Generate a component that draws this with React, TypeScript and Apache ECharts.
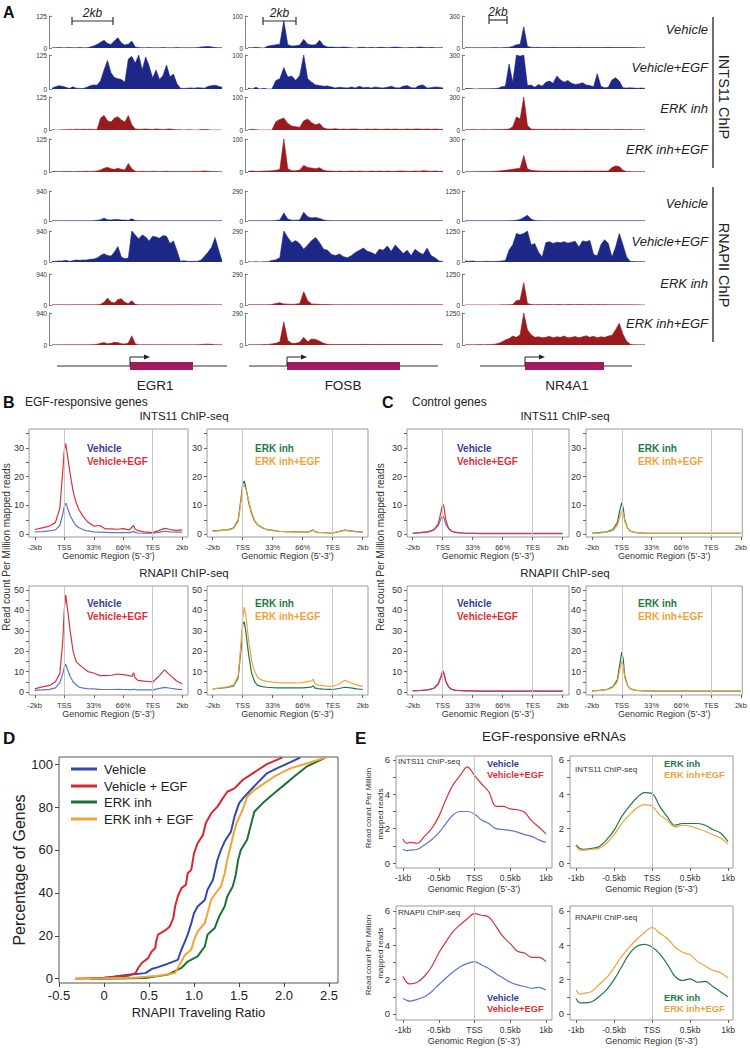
import React, { useEffect, useRef } from "react";
import * as echarts from "echarts";

const FONT = '"Liberation Sans", Arial, Helvetica, sans-serif';

// ---------------- Panel A: browser tracks (50 bins each) ----------------
const TRACK_BINS = 50;
const GENES = ["EGR1", "FOSB", "NR4A1"];
const INTS11_MAX = [125, 100, 300];
const RNAPII_MAX = [940, 290, 1250];
const CONDITIONS = ["Vehicle", "Vehicle+EGF", "ERK inh", "ERK inh+EGF"];

const A_EGR1_I_VEH = [1,1,2,1,1,2,1,1,2,1, 1,4,8,14,22,30,18,14,28,40, 20,12,15,27,4,2,1,1,2,1, 1,1,2,1,1,1,2,1,1,1, 1,1,2,4,5,6,4,2,1,1];
const A_EGR1_I_EGF = [3,8,12,10,6,2,8,3,2,2, 6,12,15,14,30,70,105,60,42,38, 35,25,110,120,95,125,70,118,85,40, 70,35,50,88,45,55,20,3,2,3, 4,3,5,4,3,10,12,14,10,6];
const A_EGR1_I_ERK = [1,0,0,1,1,2,1,3,2,3, 2,3,2,2,45,55,35,30,45,50, 38,30,55,20,4,3,3,4,3,2, 4,3,2,3,4,2,1,1,0,1, 1,0,0,2,2,1,0,0,0,0];
const A_EGR1_I_ERKEGF = [2,2,1,2,2,2,1,2,2,2, 3,2,3,4,8,14,18,12,10,14, 10,8,32,12,3,2,3,2,2,3, 2,2,2,3,2,2,2,2,2,2, 2,3,2,3,4,3,2,2,1,1];
const A_EGR1_P_VEH = [5,5,5,5,5,5,5,5,8,5, 5,5,10,20,40,90,40,30,50,45, 30,30,20,70,15,10,8,8,8,8, 8,8,8,8,8,8,5,5,5,5, 5,5,5,8,8,5,5,5,5,5];
const A_EGR1_P_EGF = [20,20,30,30,50,20,40,60,50,60, 60,80,90,120,200,250,200,180,300,470, 150,100,120,940,820,700,820,760,640,780, 760,720,800,780,560,640,350,20,40,20, 20,20,20,60,180,300,450,740,380,30];
const A_EGR1_P_ERK = [5,5,5,5,5,5,5,5,10,5, 10,5,10,10,20,80,210,90,60,170, 190,80,40,130,20,10,5,10,5,5, 10,5,5,5,5,5,5,5,10,5, 5,5,5,10,5,5,5,5,5,5];
const A_EGR1_P_ERKEGF = [5,5,5,5,8,5,5,8,5,5, 8,10,15,25,50,70,40,50,80,70, 40,30,60,270,40,10,10,10,8,8, 8,8,8,10,8,8,8,8,8,8, 8,8,10,15,25,25,20,10,5,5];

const A_FOSB_I_VEH = [1,1,2,1,0,6,8,10,12,85, 10,6,7,9,27,12,9,10,24,8, 3,3,2,2,3,2,1,0,2,2, 1,2,1,2,2,1,2,3,2,1, 1,2,1,3,2,1,2,1,1,1];
const A_FOSB_I_EGF = [3,0,5,0,2,0,0,25,30,63, 35,38,25,40,100,30,20,12,10,8, 9,6,3,5,4,3,6,3,8,4, 5,3,6,4,3,5,8,4,3,8, 10,4,3,10,12,3,4,6,5,3];
const A_FOSB_I_ERK = [0,2,1,0,0,0,0,25,32,36, 20,12,10,8,28,33,22,16,20,6, 3,3,4,2,3,2,3,3,2,2, 3,2,3,2,2,3,2,3,2,2, 3,2,3,3,2,3,2,3,2,2];
const A_FOSB_I_ERKEGF = [2,3,2,2,3,3,4,5,8,100, 10,4,4,6,20,14,12,10,13,5, 3,3,2,3,2,2,3,2,3,2, 2,3,2,3,2,3,2,2,3,3, 2,2,3,2,4,3,2,3,2,2];
const A_FOSB_P_VEH = [2,2,2,2,2,2,3,5,10,78, 20,8,8,10,85,40,30,35,25,10, 4,3,3,3,3,3,3,3,3,3, 3,3,3,3,3,3,3,3,3,3, 3,3,3,3,3,3,3,3,3,3];
const A_FOSB_P_EGF = [3,0,3,0,2,3,15,20,40,290, 230,180,200,170,120,160,200,230,180,120, 110,70,60,75,50,40,60,90,110,130, 100,90,70,120,110,150,100,160,120,80, 110,60,120,90,70,130,60,40,10,5];
const A_FOSB_P_ERK = [2,2,3,2,2,3,5,15,20,10, 8,6,8,15,125,40,10,8,6,5, 4,3,3,3,2,3,3,2,3,3, 2,2,3,3,2,3,2,3,3,2, 3,3,2,3,2,3,2,3,2,2];
const A_FOSB_P_ERKEGF = [3,2,3,2,4,5,10,15,30,210, 40,15,15,25,70,30,55,50,35,15, 6,5,5,4,5,4,5,4,5,6, 4,5,4,5,5,4,5,4,5,4, 5,4,5,5,4,5,4,5,4,3];

const A_NR4A1_I_VEH = [3,3,2,3,3,2,3,3,4,3, 3,4,6,15,30,35,200,15,6,5, 6,5,4,5,6,5,4,5,4,5, 4,6,5,4,5,4,5,4,5,6, 4,5,4,5,4,5,4,3,3,3];
const A_NR4A1_I_EGF = [5,4,3,0,2,3,2,3,4,6, 20,25,220,60,300,290,300,30,35,15, 40,25,60,70,50,115,80,60,75,50, 40,45,55,35,30,20,135,25,10,15, 80,100,70,10,8,10,8,6,8,5];
const A_NR4A1_I_ERK = [3,3,4,3,3,4,3,3,4,5, 4,6,8,30,120,100,300,40,8,6, 5,6,5,6,5,6,5,6,5,6, 5,4,5,6,5,4,5,4,5,4, 3,4,5,4,3,4,3,3,2,2];
const A_NR4A1_I_ERKEGF = [3,2,3,3,4,4,5,5,6,8, 12,15,20,25,30,35,150,30,15,12, 10,8,10,8,9,8,10,8,9,8, 8,9,8,10,8,9,8,9,8,10, 40,55,50,15,5,4,3,3,3,3];
const A_NR4A1_P_VEH = [8,8,8,8,8,8,8,8,8,8, 10,10,12,20,30,60,150,240,80,20, 15,12,12,12,10,12,12,10,12,10, 10,12,10,12,10,10,12,10,10,10, 10,12,10,12,10,10,8,8,8,8];
const A_NR4A1_P_EGF = [40,30,40,20,20,25,30,20,25,30, 40,60,480,700,1150,1100,1150,1250,700,740, 400,200,780,820,750,800,780,820,760,800, 840,600,850,820,870,300,250,700,900,750, 200,600,1150,700,200,20,20,15,10,8];
const A_NR4A1_P_ERK = [5,5,5,5,5,5,5,5,5,5, 8,10,15,20,180,200,900,60,20,15, 18,15,20,18,15,20,18,15,20,18, 15,18,20,15,18,15,20,15,18,15, 12,15,12,10,12,10,8,8,5,5];
const A_NR4A1_P_ERKEGF = [10,10,10,12,15,12,15,20,30,60, 120,200,250,350,300,400,1250,600,400,300, 320,280,300,340,280,320,300,350,280,300, 330,280,320,360,300,340,280,320,300,350, 380,600,850,420,150,30,10,8,5,5];

const TRACKS = [
  [A_EGR1_I_VEH, A_EGR1_I_EGF, A_EGR1_I_ERK, A_EGR1_I_ERKEGF, A_EGR1_P_VEH, A_EGR1_P_EGF, A_EGR1_P_ERK, A_EGR1_P_ERKEGF],
  [A_FOSB_I_VEH, A_FOSB_I_EGF, A_FOSB_I_ERK, A_FOSB_I_ERKEGF, A_FOSB_P_VEH, A_FOSB_P_EGF, A_FOSB_P_ERK, A_FOSB_P_ERKEGF],
  [A_NR4A1_I_VEH, A_NR4A1_I_EGF, A_NR4A1_I_ERK, A_NR4A1_I_ERKEGF, A_NR4A1_P_VEH, A_NR4A1_P_EGF, A_NR4A1_P_ERK, A_NR4A1_P_ERKEGF],
];

// ---------------- Panels B & C: metagene profiles ----------------
const PROFILE_X = [0,5,10,14,17,19,20,21,22,24,26,28,30,33,36,40,44,48,52,56,60,64,66,67,68,70,74,78,80,84,88,92,96,100];
const PROFILE_TICKS = [0, 20, 40, 60, 80, 100];
const PROFILE_TICK_LABELS = ["-2kb", "TSS", "33%", "66%", "TES", "2kb"];

const B_INTS11_VEH = [0.8,0.9,1.1,1.5,3,7,9.5,10.8,9.5,6.5,4.5,3,2.2,1.5,1.1,0.8,0.7,0.6,0.5,0.5,0.5,0.5,0.8,1,0.6,0.4,0.3,0.3,0.3,0.6,1,0.8,0.7,0.7];
const B_INTS11_EGF = [1.6,2.2,2.8,4,9,22,29,31.5,28,21,15,11,8.5,6,4.2,2.8,3,1.8,1.8,1.7,1.9,1.5,2.5,3,1.8,1.2,0.8,0.6,0.5,1.2,2,1.6,1.3,1.5];
const B_INTS11_ERK = [1.1,1.3,1.5,2.2,5,13,17.5,18.5,16.5,11,7,4.5,3.2,2.2,1.6,1.3,1,0.9,0.9,0.8,0.8,0.8,1.2,1.5,0.9,0.6,0.5,0.4,0.4,0.9,1.4,1.1,0.9,0.8];
const B_INTS11_ERKEGF = [1,1.2,1.4,2,4.5,12,16.5,17,16,11.5,7.5,4.8,3.3,2.3,1.6,1.2,1,0.9,0.8,0.8,0.8,0.8,1.1,1.4,0.9,0.6,0.5,0.4,0.4,0.9,1.3,1,0.8,0.7];
const B_POL2_VEH = [0.8,1,1.3,2,4.5,9,12,13.6,11.5,7.6,5,3.5,2.4,1.9,1.6,1.5,1.3,1.2,1.2,1.3,1.2,1.1,1.1,1.3,1.1,1,1,1,1,1.6,2.2,1.8,1.4,1.1];
const B_POL2_EGF = [1.5,2.5,3.2,5,9,25,40,47.5,42,30,20,15,13.5,11.7,10,9.3,8,8,8.2,8.8,8.5,8,7.6,9.5,7,5.7,5.3,5,4.9,7.6,10.8,8,5.5,3.9];
const B_POL2_ERK = [1.5,1.8,2.2,3,7,22,33,34.5,30,18,9,5,3.2,2.6,2.3,2.1,2,2,2,2,2,2.2,2.5,3,2,1.6,1.4,1.3,1.2,1.7,2.3,2,1.5,1.2];
const B_POL2_ERKEGF = [1.5,2,2.5,3.5,8,25,36,41.5,38,25,15,10,7,5.7,5.2,4.8,4.6,4.5,4.5,4.4,4.6,5.2,5.5,6.3,4,3.5,3,2.8,2.7,3.8,5.7,4.5,3.5,2.7];

const C_INTS11_VEH = [0.3,0.5,0.8,1.4,3,5.5,6.5,5.5,3.5,1.8,1,0.7,0.5,0.4,0.3,0.3,0.2,0.2,0.2,0.2,0.2,0.2,0.2,0.2,0.2,0.2,0.2,0.2,0.2,0.2,0.2,0.2,0.2,0.2];
const C_INTS11_EGF = [0.3,0.5,0.8,1.5,3.5,8,10.5,9,5,2,1,0.7,0.5,0.4,0.3,0.3,0.3,0.3,0.3,0.3,0.3,0.3,0.3,0.3,0.3,0.3,0.3,0.3,0.3,0.3,0.3,0.3,0.3,0.3];
const C_INTS11_ERK = [0.3,0.5,0.8,1.6,4,9,11,9,5,2,1,0.7,0.5,0.4,0.3,0.3,0.3,0.3,0.3,0.3,0.3,0.3,0.3,0.3,0.3,0.3,0.3,0.3,0.3,0.3,0.3,0.3,0.3,0.3];
const C_INTS11_ERKEGF = [0.3,0.4,0.7,1.2,3,6.5,8,7.5,4.5,2,1,0.7,0.5,0.4,0.3,0.3,0.3,0.3,0.3,0.3,0.3,0.3,0.3,0.3,0.3,0.3,0.3,0.3,0.3,0.3,0.3,0.3,0.3,0.3];
const C_POL2_VEH = [0.5,0.7,1,1.7,3.8,7.5,9.5,8.5,5,2.3,1.2,0.9,0.7,0.6,0.5,0.5,0.4,0.4,0.4,0.4,0.4,0.4,0.4,0.4,0.4,0.4,0.4,0.4,0.4,0.4,0.4,0.4,0.4,0.4];
const C_POL2_EGF = [0.5,0.7,1,1.8,4,8,10.5,9,5.5,2.5,1.3,0.9,0.7,0.6,0.5,0.5,0.4,0.4,0.4,0.4,0.4,0.4,0.4,0.4,0.4,0.4,0.4,0.4,0.4,0.4,0.4,0.4,0.4,0.4];
const C_POL2_ERK = [0.5,0.8,1.2,2.5,6,15,19.5,16,8,3,1.5,1,0.8,0.6,0.5,0.5,0.4,0.4,0.4,0.4,0.4,0.4,0.4,0.4,0.4,0.4,0.4,0.4,0.4,0.4,0.4,0.4,0.4,0.4];
const C_POL2_ERKEGF = [0.5,0.7,1.1,2.2,5,12,15,13,7,3,1.5,1,0.8,0.6,0.5,0.5,0.4,0.4,0.4,0.4,0.4,0.4,0.4,0.4,0.4,0.4,0.4,0.4,0.4,0.4,0.4,0.4,0.4,0.4];

// ---------------- Panel D: cumulative distribution ----------------
const D_VEH_X = [-0.05,0,0.27,0.46,0.53,0.6,0.71,0.82,0.86,0.9,0.93,0.97,1.0,1.04,1.12,1.15,1.21,1.26,1.3,1.34,1.41,1.45,1.5,1.56,1.63,1.7,1.81,1.92,2.0,2.18];
const D_VEH_Y = [0,0.3,1.9,2.6,4.5,5.4,7,8.8,13.5,17.4,20.5,25.9,30.5,33.6,36.7,41.4,46,55.3,60,63.9,68.5,75.5,81.7,84.8,87.9,91,95.7,98,99.5,103];
const D_EGF_X = [-0.32,0,0.27,0.35,0.38,0.42,0.49,0.53,0.57,0.58,0.6,0.68,0.73,0.77,0.79,0.82,0.86,0.91,0.93,0.97,1.0,1.04,1.1,1.13,1.19,1.26,1.32,1.37,1.45,1.54,1.61,1.7,1.81,1.98];
const D_EGF_Y = [0,0.5,1.4,2.6,5,7.3,9.6,12.7,14.3,17.4,20.5,22.5,24.3,28.2,33.6,38.3,42.2,43.7,49.1,50.7,58.4,63.1,67,72.4,77,80.2,84,87.1,88.7,92.6,94.5,97,100,103];
const D_ERK_X = [-0.15,0.16,0.46,0.71,0.86,0.93,1.04,1.12,1.15,1.23,1.28,1.34,1.37,1.43,1.46,1.49,1.52,1.59,1.67,1.78,1.89,2.0,2.11,2.25,2.46];
const D_ERK_Y = [0,0.1,0.3,1.9,5,8,10.4,15,20.5,23.6,29,33.6,38.3,43,47.6,55.3,60,64.7,77.8,82.5,86.4,90.2,94.1,98.8,103];
const D_ERKEGF_X = [-0.32,0,0.35,0.6,0.79,0.86,0.9,0.97,1.0,1.04,1.12,1.15,1.19,1.24,1.3,1.34,1.37,1.41,1.45,1.48,1.54,1.59,1.67,1.78,1.92,2.07,2.25,2.46];
const D_ERKEGF_Y = [0,0.2,0.5,1.4,2.6,8,11.2,13.5,18,22,25.9,30.5,36.7,39.8,43,49,55.3,62.3,69.3,73.2,78.6,84.8,87.9,91,94.9,98,100.3,103];
const D_XTICKS = [-0.5, 0, 0.5, 1, 1.5, 2, 2.5];
const D_XLABELS = ["-0.5", "0", "0.5", "1.0", "1.5", "2.0", "2.5"];
const D_YTICKS = [0, 20, 40, 60, 80, 100];
const D_LEGEND = ["Vehicle", "Vehicle + EGF", "ERK inh", "ERK inh + EGF"];

// ---------------- Panel E: eRNA profiles ----------------
const E_X = [-1,-0.95,-0.9,-0.8,-0.7,-0.6,-0.5,-0.4,-0.3,-0.2,-0.1,0,0.1,0.2,0.3,0.4,0.5,0.6,0.7,0.8,0.9,1];
const E_INTS11_VEH = [0.8,0.72,0.75,0.8,1.05,1.35,1.75,2.3,2.8,3.0,3.0,2.85,2.5,2.3,2.0,1.95,1.9,1.8,1.65,1.55,1.35,1.2];
const E_INTS11_EGF = [1.4,1.15,1.2,1.15,1.55,2.0,2.7,3.7,4.55,5.1,5.6,5.1,4.6,4.15,3.3,3.3,3.15,3.1,2.95,2.45,2.1,1.7];
const E_INTS11_ERK = [1.05,0.85,0.8,0.85,0.95,1.35,1.9,2.7,3.3,3.8,4.1,4.05,3.3,2.7,2.2,2.3,2.3,2.3,2.2,1.95,1.75,1.25];
const E_INTS11_ERKEGF = [1.0,0.75,0.75,0.8,0.85,1.15,1.65,2.3,2.8,3.2,3.4,3.3,2.8,2.5,2.1,2.2,2.15,2.0,1.85,1.65,1.45,1.1];
const E_POL2_VEH = [0.9,0.8,0.75,0.85,1.0,1.3,1.7,2.1,2.45,2.75,2.95,3.05,2.85,2.65,2.35,2.1,1.85,1.7,1.6,1.5,1.55,1.4];
const E_POL2_EGF = [2.2,1.85,1.75,1.85,2.2,2.75,3.55,4.2,4.8,5.2,5.55,5.85,5.75,5.65,5.1,4.5,4.1,3.65,3.55,3.3,3.3,3.05];
const E_POL2_ERK = [0.9,0.65,0.65,0.7,1.0,1.4,2.0,2.75,3.5,3.95,4.05,3.9,3.5,2.9,2.2,1.95,2.05,1.85,1.9,1.6,1.3,1.0];
const E_POL2_ERKEGF = [1.4,1.15,1.2,1.3,1.7,2.1,2.7,3.35,3.9,4.35,4.75,5.05,4.7,4.4,3.9,3.6,3.45,3.05,2.8,2.55,2.4,2.1];
const E_XTICKS = [-1, -0.5, 0, 0.5, 1];
const E_XLABELS = ["-1kb", "-0.5kb", "TSS", "0.5kb", "1kb"];

// ---------------- colours ----------------
const TRACK_BLUE = "#1c2788";
const TRACK_RED = "#9a1b1e";
const COL_VEH_LINE = "#5a77c9";
const COL_VEH_TEXT = "#343b9b";
const COL_EGF = "#dc3139";
const COL_ERK = "#1d7a44";
const COL_ERKEGF = "#efa23a";
const D_COLORS = ["#3549ad", "#d7282f", "#1b7434", "#f2a331"];

const fmt = (vals: number[], labels: string[]) => (v: number) => {
  const i = vals.findIndex((t) => Math.abs(t - v) < 1e-6);
  return i >= 0 ? labels[i] : "";
};
const pairs = (xs: number[], ys: number[]) => {
  const n = Math.min(xs.length, ys.length);
  const out: number[][] = [];
  for (let i = 0; i < n; i++) out.push([xs[i], ys[i]]);
  return out;
};

function T(text: string, x: number, y: number, o: any = {}) {
  return {
    type: "text", x, y, rotation: o.rotation || 0, silent: true,
    style: {
      text, fill: o.color || "#222", fontSize: o.size || 12, fontFamily: FONT,
      fontWeight: o.weight || "normal", fontStyle: o.style || "normal",
      textAlign: o.align || "left", textVerticalAlign: "middle",
      align: o.align || "left", verticalAlign: "middle",
    },
  };
}
function L(x1: number, y1: number, x2: number, y2: number, color = "#222", w = 1) {
  return { type: "line", silent: true, shape: { x1, y1, x2, y2 }, style: { stroke: color, lineWidth: w } };
}

const NO_LINE = { show: false, onZero: false };

function buildOption() {
  const grid: any[] = [], xAxis: any[] = [], yAxis: any[] = [], series: any[] = [], graphic: any[] = [];
  const add = (g: any, xa: any, ya: any) => {
    const idx = grid.length;
    grid.push({ containLabel: false, ...g });
    xAxis.push({ gridIndex: idx, ...xa });
    yAxis.push({ gridIndex: idx, ...ya });
    return idx;
  };

  // ---------- Panel A ----------
  const cols = [{ left: 52, width: 170 }, { left: 248, width: 195 }, { left: 465, width: 180 }];
  const rows = [
    { top: 16, height: 32 }, { top: 55, height: 34 }, { top: 97, height: 33 }, { top: 139, height: 33 },
    { top: 191, height: 30 }, { top: 231, height: 31 }, { top: 274, height: 31 }, { top: 313, height: 32 },
  ];
  const rowColor = [TRACK_BLUE, TRACK_BLUE, TRACK_RED, TRACK_RED, TRACK_BLUE, TRACK_BLUE, TRACK_RED, TRACK_RED];
  TRACKS.forEach((geneTracks, c) => {
    geneTracks.forEach((vals, r) => {
      const max = r < 4 ? INTS11_MAX[c] : RNAPII_MAX[c];
      const gi = add(
        { left: cols[c].left, width: cols[c].width, top: rows[r].top, height: rows[r].height },
        { type: "value", min: 0, max: TRACK_BINS - 1, show: false, axisLine: NO_LINE },
        {
          type: "value", min: 0, max, interval: max, offset: 3,
          axisLine: { show: true, onZero: false, lineStyle: { color: "#666", width: 0.8 } },
          axisTick: { show: true, inside: true, length: 3, lineStyle: { color: "#666", width: 0.8 } },
          axisLabel: { fontSize: 6.5, color: "#333", margin: 2, fontFamily: FONT, formatter: (v: number) => String(v) },
          splitLine: { show: false },
        }
      );
      series.push({
        type: "line", xAxisIndex: gi, yAxisIndex: gi, silent: true, symbol: "none", clip: true,
        data: vals.map((v, i) => [i, v]),
        lineStyle: { width: 0.6, color: rowColor[r] },
        areaStyle: { color: rowColor[r], opacity: 1 },
      });
    });
  });

  graphic.push(T("A", 3, 12, { size: 16, weight: "bold", color: "#111" }));
  [[72, 113, 21], [263, 296, 21], [489, 507, 20]].forEach(([a, b, y]) => {
    graphic.push(L(a, y, b, y, "#333", 1.2), L(a, y - 4, a, y + 4, "#333", 1.2), L(b, y - 4, b, y + 4, "#333", 1.2));
    graphic.push(T("2kb", (a + b) / 2, y - 8, { align: "center", size: 12, style: "italic", color: "#222" }));
  });
  const labY = [29, 67, 108, 149, 203, 241, 283, 323];
  labY.forEach((y, i) => graphic.push(T(CONDITIONS[i % 4], 708, y, { align: "right", size: 13, style: "italic", color: "#222" })));
  graphic.push(L(713, 17, 713, 168, "#222", 1.3), L(713, 187, 713, 342, "#222", 1.3));
  graphic.push(T("INTS11 ChIP", 724, 97, { align: "center", size: 14.5, rotation: -Math.PI / 2 }));
  graphic.push(T("RNAPII ChIP", 724, 265, { align: "center", size: 14.5, rotation: -Math.PI / 2 }));
  const models = [
    { l: 57, r: 227, b0: 130, b1: 193, cx: 155 },
    { l: 249, r: 438, b0: 287, b1: 400, cx: 343 },
    { l: 480, r: 632, b0: 525, b1: 604, cx: 567 },
  ];
  models.forEach((m, i) => {
    graphic.push(L(m.l, 366, m.r, 366, "#333", 1.2));
    graphic.push({ type: "rect", silent: true, shape: { x: m.b0, y: 362, width: m.b1 - m.b0, height: 8 }, style: { fill: "#a01c5f" } });
    graphic.push({ type: "polyline", silent: true, shape: { points: [[m.b0, 366], [m.b0, 357], [m.b0 + 15, 357]] }, style: { stroke: "#222", lineWidth: 1, fill: null } });
    graphic.push({ type: "polygon", silent: true, shape: { points: [[m.b0 + 14, 354.5], [m.b0 + 20, 357], [m.b0 + 14, 359.5]] }, style: { fill: "#222" } });
    graphic.push(T(GENES[i], m.cx, 385, { align: "center", size: 13.5, color: "#222" }));
  });

  // ---------- Panels B & C ----------
  const profile = (p: any) => {
    const gi = add(
      { left: p.box[0], top: p.box[1], width: p.box[2], height: p.box[3], show: true, borderColor: "#9a9a9a", borderWidth: 1 },
      {
        type: "value", min: p.xr[0], max: p.xr[1], axisLine: NO_LINE, splitLine: { show: false },
        axisTick: { show: true, customValues: PROFILE_TICKS, length: 3, lineStyle: { color: "#666" } },
        axisLabel: { customValues: PROFILE_TICKS, formatter: fmt(PROFILE_TICKS, PROFILE_TICK_LABELS), fontSize: 7.5, color: "#333", margin: 6, fontFamily: FONT },
        name: "Genomic Region (5\u2019-3\u2019)", nameLocation: "middle", nameGap: 13,
        nameTextStyle: { fontSize: 9, color: "#333", fontFamily: FONT },
      },
      {
        type: "value", min: p.yr[0], max: p.yr[1], axisLine: NO_LINE, splitLine: { show: false },
        axisTick: { show: true, customValues: p.ytickv, length: 3, lineStyle: { color: "#666" } },
        axisLabel: { customValues: p.ylabv, fontSize: 9, color: "#333", margin: 5, fontFamily: FONT },
      }
    );
    series.push({
      type: "line", xAxisIndex: gi, yAxisIndex: gi, data: [], silent: true, symbol: "none",
      markLine: { silent: true, symbol: ["none", "none"], label: { show: false }, lineStyle: { color: "#c9c9c9", width: 1, type: "solid" }, data: [{ xAxis: 20 }, { xAxis: 80 }] },
    });
    p.lines.forEach((s: any) => {
      series.push({
        type: "line", xAxisIndex: gi, yAxisIndex: gi, data: pairs(PROFILE_X, s.data), silent: true, symbol: "none",
        lineStyle: { color: s.color, width: 1.2 },
      });
    });
    graphic.push(T(p.leg[0], p.legPos[0], p.legPos[1], { size: 10, weight: "bold", color: p.legCol[0] }));
    graphic.push(T(p.leg[1], p.legPos[0], p.legPos[1] + 13, { size: 10, weight: "bold", color: p.legCol[1] }));
  };
  const smallY = { yr: [-1, 36.6], ytickv: [0, 5, 10, 15, 20, 25, 30, 35], ylabv: [0, 10, 20, 30] };
  const bigY = { yr: [-1.5, 52], ytickv: [0, 5, 10, 15, 20, 25, 30, 35, 40, 45, 50], ylabv: [0, 10, 20, 30, 40, 50] };
  const vehLeg = { leg: ["Vehicle", "Vehicle+EGF"], legCol: [COL_VEH_TEXT, COL_EGF] };
  const erkLeg = { leg: ["ERK inh", "ERK inh+EGF"], legCol: [COL_ERK, COL_ERKEGF] };
  const vehLines = (a: number[], b: number[]) => [{ data: a, color: COL_VEH_LINE }, { data: b, color: COL_EGF }];
  const erkLines = (a: number[], b: number[]) => [{ data: a, color: COL_ERK }, { data: b, color: COL_ERKEGF }];
  profile({ box: [29, 429, 159, 108], xr: [-3.9, 103.9], ...smallY, ...vehLeg, legPos: [87, 448], lines: vehLines(B_INTS11_VEH, B_INTS11_EGF) });
  profile({ box: [207, 429, 161, 108], xr: [-3.8, 103.5], ...smallY, ...erkLeg, legPos: [255, 448], lines: erkLines(B_INTS11_ERK, B_INTS11_ERKEGF) });
  profile({ box: [29, 586, 159, 109], xr: [-3.9, 103.9], ...bigY, ...vehLeg, legPos: [87, 603], lines: vehLines(B_POL2_VEH, B_POL2_EGF) });
  profile({ box: [207, 586, 161, 109], xr: [-3.8, 103.5], ...bigY, ...erkLeg, legPos: [255, 603], lines: erkLines(B_POL2_ERK, B_POL2_ERKEGF) });
  profile({ box: [407, 429, 162, 108], xr: [-3.8, 104.2], ...smallY, ...vehLeg, legPos: [457, 448], lines: vehLines(C_INTS11_VEH, C_INTS11_EGF) });
  profile({ box: [586, 429, 159, 108], xr: [-4, 100.9], ...smallY, ...erkLeg, legPos: [638, 448], lines: erkLines(C_INTS11_ERK, C_INTS11_ERKEGF) });
  profile({ box: [407, 586, 162, 109], xr: [-3.8, 104.2], ...bigY, ...vehLeg, legPos: [457, 603], lines: vehLines(C_POL2_VEH, C_POL2_EGF) });
  profile({ box: [586, 586, 159, 109], xr: [-4, 100.9], ...bigY, ...erkLeg, legPos: [638, 603], lines: erkLines(C_POL2_ERK, C_POL2_ERKEGF) });

  graphic.push(T("B", 3, 402, { size: 16, weight: "bold", color: "#111" }));
  graphic.push(T("EGF-responsive genes", 25, 402, { size: 12 }));
  graphic.push(T("C", 382, 402, { size: 16, weight: "bold", color: "#111" }));
  graphic.push(T("Control genes", 412, 402, { size: 12 }));
  graphic.push(T("INTS11 ChIP-seq", 184, 416, { align: "center", size: 11.5 }));
  graphic.push(T("INTS11 ChIP-seq", 565, 416, { align: "center", size: 11.5 }));
  graphic.push(T("RNAPII ChIP-seq", 184, 573, { align: "center", size: 11.5 }));
  graphic.push(T("RNAPII ChIP-seq", 565, 573, { align: "center", size: 11.5 }));
  graphic.push(T("Read count Per Million mapped reads", 6, 547, { align: "center", size: 10, rotation: Math.PI / 2, color: "#333" }));
  graphic.push(T("Read count Per Million mapped reads", 380, 547, { align: "center", size: 10, rotation: Math.PI / 2, color: "#333" }));

  // ---------- Panel D ----------
  const dg = add(
    { left: 59, top: 757, width: 279, height: 226, show: true, borderColor: "#555", borderWidth: 1 },
    {
      type: "value", min: -0.5, max: 2.6, axisLine: NO_LINE, splitLine: { show: false },
      axisTick: { show: true, customValues: D_XTICKS, length: 4, lineStyle: { color: "#444" } },
      axisLabel: { customValues: D_XTICKS, formatter: fmt(D_XTICKS, D_XLABELS), fontSize: 13, color: "#222", margin: 6, fontFamily: FONT },
      name: "RNAPII Traveling Ratio", nameLocation: "middle", nameGap: 23,
      nameTextStyle: { fontSize: 13, color: "#222", fontFamily: FONT },
    },
    {
      type: "value", min: -2, max: 103.3, axisLine: NO_LINE, splitLine: { show: false },
      axisTick: { show: true, customValues: D_YTICKS, length: 4, lineStyle: { color: "#444" } },
      axisLabel: { customValues: D_YTICKS, fontSize: 13, color: "#222", margin: 6, fontFamily: FONT },
      name: "Percentage of Genes", nameLocation: "middle", nameGap: 31, nameRotate: 90,
      nameTextStyle: { fontSize: 16, color: "#222", fontFamily: FONT },
    }
  );
  const dSeries = [pairs(D_VEH_X, D_VEH_Y), pairs(D_EGF_X, D_EGF_Y), pairs(D_ERK_X, D_ERK_Y), pairs(D_ERKEGF_X, D_ERKEGF_Y)];
  dSeries.forEach((d, i) => {
    series.push({ type: "line", xAxisIndex: dg, yAxisIndex: dg, data: d, silent: true, symbol: "none", lineStyle: { color: D_COLORS[i], width: 2 } });
  });
  graphic.push(T("D", 3, 738, { size: 17, weight: "bold", color: "#111" }));
  [769, 786, 802, 819].forEach((y, i) => {
    graphic.push(L(71, y, 97, y, D_COLORS[i], 3));
    graphic.push(T(D_LEGEND[i], 104, y, { size: 13, color: "#222" }));
  });

  // ---------- Panel E ----------
  const eplot = (p: any) => {
    const gi = add(
      { left: p.box[0], top: p.box[1], width: p.box[2], height: p.box[3], show: true, borderColor: "#9a9a9a", borderWidth: 1 },
      {
        type: "value", min: p.xr[0], max: p.xr[1], axisLine: NO_LINE, splitLine: { show: false },
        axisTick: { show: true, customValues: E_XTICKS, length: 3, lineStyle: { color: "#666" } },
        axisLabel: { customValues: E_XTICKS, formatter: fmt(E_XTICKS, E_XLABELS), fontSize: 8.5, color: "#333", margin: 5, fontFamily: FONT },
        name: "Genomic Region (5\u2019-3\u2019)", nameLocation: "middle", nameGap: 16,
        nameTextStyle: { fontSize: 9, color: "#333", fontFamily: FONT },
      },
      {
        type: "value", min: p.yr[0], max: p.yr[1], axisLine: NO_LINE, splitLine: { show: false },
        axisTick: { show: true, customValues: [0, 1, 2, 3, 4, 5, 6], length: 3, lineStyle: { color: "#666" } },
        axisLabel: { customValues: [0, 2, 4, 6], fontSize: 9.5, color: "#333", margin: 6, fontFamily: FONT },
      }
    );
    series.push({
      type: "line", xAxisIndex: gi, yAxisIndex: gi, data: [], silent: true, symbol: "none",
      markLine: { silent: true, symbol: ["none", "none"], label: { show: false }, lineStyle: { color: "#c9c9c9", width: 1, type: "solid" }, data: [{ xAxis: 0 }] },
    });
    p.lines.forEach((s: any) => {
      series.push({
        type: "line", xAxisIndex: gi, yAxisIndex: gi, data: pairs(E_X, s.data), silent: true, symbol: "none", smooth: 0.35,
        lineStyle: { color: s.color, width: 1.2 },
      });
    });
    graphic.push(T(p.title, p.titlePos[0], p.titlePos[1], { size: 8, color: "#333" }));
    graphic.push(T(p.leg[0], p.legPos[0], p.legPos[1], { size: 9.3, weight: "bold", color: p.legCol[0] }));
    graphic.push(T(p.leg[1], p.legPos[0], p.legPos[1] + 11, { size: 9.3, weight: "bold", color: p.legCol[1] }));
  };
  eplot({ box: [396, 756, 156, 112], xr: [-1.098, 1.084], yr: [-0.29, 6.23], title: "INTS11 ChIP-seq", titlePos: [398, 761], ...vehLeg, legPos: [487, 764], lines: vehLines(E_INTS11_VEH, E_INTS11_EGF) });
  eplot({ box: [570, 756, 163, 112], xr: [-1.08, 1.065], yr: [-0.29, 6.23], title: "INTS11 ChIP-seq", titlePos: [575, 769], ...erkLeg, legPos: [664, 764], lines: erkLines(E_INTS11_ERK, E_INTS11_ERKEGF) });
  eplot({ box: [396, 906, 156, 114], xr: [-1.098, 1.084], yr: [-0.35, 6.29], title: "RNAPII ChIP-seq", titlePos: [398, 912], ...vehLeg, legPos: [487, 998], lines: vehLines(E_POL2_VEH, E_POL2_EGF) });
  eplot({ box: [570, 906, 163, 114], xr: [-1.08, 1.065], yr: [-0.35, 6.29], title: "RNAPII ChIP-seq", titlePos: [575, 917], ...erkLeg, legPos: [664, 998], lines: erkLines(E_POL2_ERK, E_POL2_ERKEGF) });

  graphic.push(T("E", 355, 738, { size: 17, weight: "bold", color: "#111" }));
  graphic.push(T("EGF-responsive eRNAs", 554, 736, { align: "center", size: 13.5 }));
  [[808, 814], [955, 953]].forEach(([a, b]) => {
    graphic.push(T("Read count Per Million", 368, a, { align: "center", size: 8, rotation: Math.PI / 2, color: "#333" }));
    graphic.push(T("mapped reads", 380, b, { align: "center", size: 8, rotation: Math.PI / 2, color: "#333" }));
  });

  return {
    animation: false,
    backgroundColor: "#ffffff",
    textStyle: { fontFamily: FONT },
    grid, xAxis, yAxis, series,
    graphic: { elements: graphic },
  };
}

export default function App() {
  const ref = useRef<HTMLDivElement>(null);
  useEffect(() => {
    if (!ref.current) return;
    const chart = echarts.init(ref.current, undefined, { renderer: "svg" });
    chart.setOption(buildOption() as any);
    return () => chart.dispose();
  }, []);
  return <div ref={ref} style={{ position: "absolute", left: 0, top: 0, width: 750, height: 1048, background: "#fff" }} />;
}
